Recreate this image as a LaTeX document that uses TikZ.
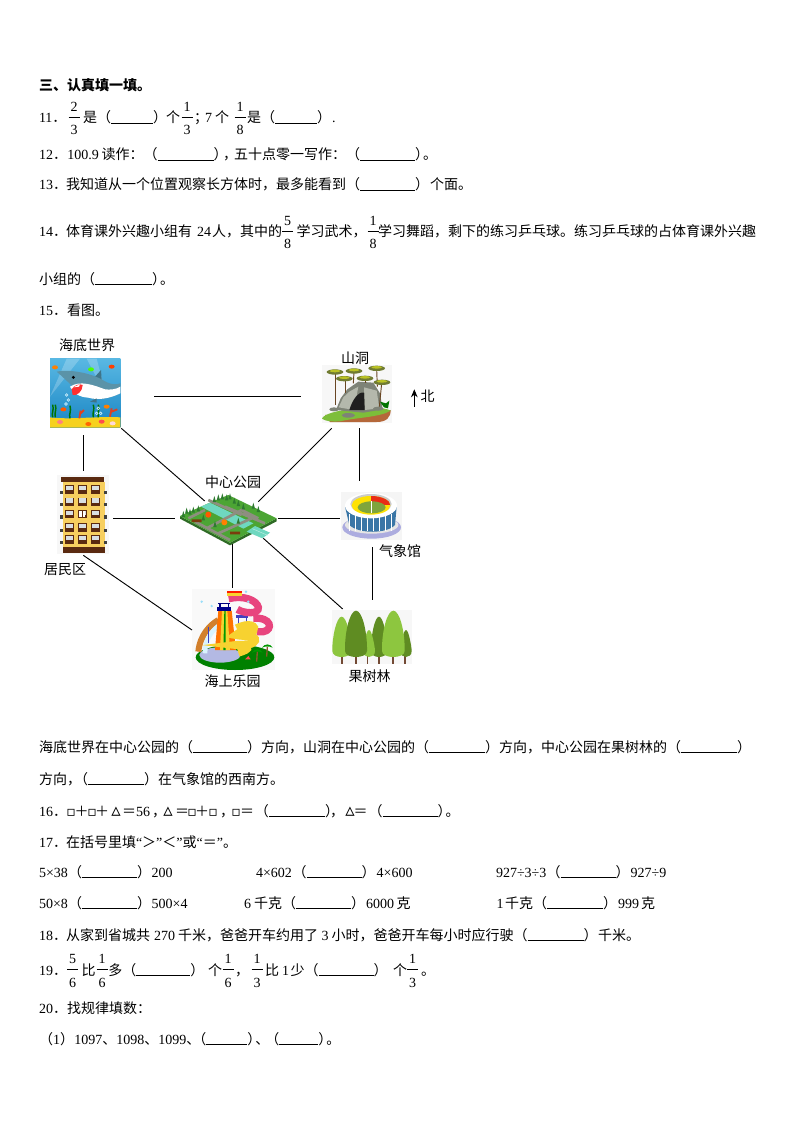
\documentclass[tikz,border=0pt]{standalone}
\usepackage{fontspec}
\usetikzlibrary{arrows.meta}
\setmainfont{Noto Sans CJK SC}
\newfontfamily\latf{Liberation Serif}
\newfontfamily\symf{DejaVu Sans}
\newdimen\pxu \pxu=0.75pt
\newcommand\dg[1]{{\latf #1}}
\newcommand\bl[1]{\rule[-1\pxu]{#1\pxu}{0.9\pxu}}
\newcommand\squ{{\symf\char"25AB}}
\newcommand\tri{{\symf\fontsize{14pt}{14pt}\selectfont\char"25B5}}
\newcommand\bx[2]{\makebox[#1\pxu]{#2}}
\newcommand\frc[2]{\hbox to 11\pxu{\rlap{\raisebox{11.3\pxu}{\hbox to 11\pxu{\hfil\dg{#1}\hfil}}}\rlap{\raisebox{5\pxu}{\rule{11\pxu}{0.7pt}}}\rlap{\raisebox{-12\pxu}{\hbox to 11\pxu{\hfil\dg{#2}\hfil}}}\hfil}}
\newcommand\tx[4]{\node[txt] (#1) at (#2,#3+5) {#4};}
\newcommand\lb[4]{\node[lab] (#1) at (#2,#3) {#4};}
\newcommand\leaf[5]{\fill[#5] (#1-#2,#4-22) .. controls (#1-#2-1,#3+62) and (#1-#2*0.55,#3) .. (#1,#3) .. controls (#1+#2*0.55,#3) and (#1+#2+1,#3+62) .. (#1+#2,#4-22) .. controls (#1+#2,#4+2) and (#1-#2,#4+2) .. cycle;}
\definecolor{brn}{HTML}{5A2A10}
\definecolor{yel}{HTML}{F7CF5F}
\definecolor{seaT}{HTML}{2FA6DC}
\definecolor{seaB}{HTML}{1B86C4}
\definecolor{shk}{HTML}{5B93A8}
\definecolor{shkD}{HTML}{3F7488}
\definecolor{sand}{HTML}{F6D11E}
\definecolor{rock}{HTML}{7E8377}
\definecolor{rockL}{HTML}{B4B8AC}
\definecolor{grass}{HTML}{7DBE3A}
\definecolor{soil}{HTML}{B5683A}
\definecolor{canopy}{HTML}{8C9A3E}
\definecolor{pgreen}{HTML}{4CA534}
\definecolor{pside}{HTML}{2F6B26}
\definecolor{river}{HTML}{6FD8C0}
\definecolor{road}{HTML}{8E8E80}
\definecolor{ptree}{HTML}{2E7A30}
\definecolor{wall}{HTML}{3A76A6}
\definecolor{fld}{HTML}{7FA53C}
\definecolor{lgt}{HTML}{8DC63F}
\definecolor{drk}{HTML}{5F8C22}
\definecolor{slide}{HTML}{E8457E}
\definecolor{slideY}{HTML}{F7D230}
\tikzset{
 txt/.style={anchor=base west,inner sep=0pt,outer sep=0pt,font=\fontsize{10.5pt}{12pt}\selectfont},
 lab/.style={anchor=center,inner sep=0pt,outer sep=0pt,font=\fontsize{10.5pt}{12pt}\selectfont},
 conn/.style={draw=black,line width=0.7pt},
 imgbox/.style={anchor=north west,inner sep=0pt,outer sep=0pt,draw=none},
 zm/.style 2 args={shift={(#1,#2)},x=0.25pt,y=-0.25pt}
}
\begin{document}
\begin{tikzpicture}[x=0.75pt,y=-0.75pt]
\useasboundingbox (0,0) rectangle (794,1123);
\fill[white] (0,0) rectangle (794,1123);
% ---- text
\node[txt,font=\fontsize{10.5pt}{12pt}\selectfont\bfseries] (h3) at (39,91) {三、认真填一填。};
\tx{q11}{39}{118}{\dg{11}．}
\tx{q11a}{68.5}{118}{\frc{2}{3}}
\tx{q11b}{83}{118}{是（\bl{42}）}
\tx{q11c}{166}{118}{个}
\tx{q11d}{181.5}{118}{\frc{1}{3}}
\tx{q11e}{194}{118}{；}
\tx{q11f}{205}{118}{\dg{7}}
\tx{q11g}{215}{118}{个}
\tx{q11h}{234.5}{118}{\frc{1}{8}}
\tx{q11i}{247}{118}{是（\bl{42}）}
\tx{q11j}{332}{118}{\dg{.}}
\tx{q12}{39}{155}{\dg{12}．}
\tx{q12a}{67.3}{155}{\dg{100.9}}
\tx{q12b}{101.7}{155}{读作：（\bl{56}）}
\tx{q12c}{223}{155}{，}
\tx{q12d}{234}{155}{五十点零一写作：（\bl{55}）\kern-6\pxu。}
\tx{q13}{39}{185}{\dg{13}．}
\tx{q13a}{66}{185}{我知道从一个位置观察长方体时，最多能看到（\bl{55}）}
\tx{q13b}{430}{185}{个面。}
\tx{q14}{39}{232}{\dg{14}．}
\tx{q14a}{66}{232}{体育课外兴趣小组有}
\tx{q14b}{197}{232}{\dg{24}}
\tx{q14c}{212}{232}{人，其中的}
\tx{q14d}{282}{232}{\frc{5}{8}}
\tx{q14e}{296.7}{232}{学习武术，}
\tx{q14f}{367.5}{232}{\frc{1}{8}}
\tx{q14g}{378}{232}{学习舞蹈，剩下的练习乒乓球。练习乒乓球的占体育课外兴趣}
\tx{q14h}{39}{279}{小组的（\bl{57}）\kern-6\pxu。}
\tx{q15}{39}{310}{\dg{15}．看图。}
\tx{a1}{39}{747}{海底世界在中心公园的（\bl{54}）方向，山洞在中心公园的（\bl{56}）方向，中心公园在果树林的（\bl{56}）}
\tx{a2}{39}{779}{方向，\kern-7\pxu（\bl{56}）在气象馆的西南方。}
\tx{q16}{39}{811}{\dg{16}．}
\tx{q16a}{66}{811}{\bx{10}{\squ}\bx{11}{＋}\bx{10}{\squ}\bx{10}{＋}\bx{18}{\tri}\bx{8}{＝}\kern3\pxu\dg{56}\kern2\pxu，}
\tx{q16b}{162}{811}{\bx{12}{\tri}\bx{16}{＝}\bx{4}{\squ}\bx{16}{＋}\bx{6}{\squ}\kern4\pxu，}
\tx{q16c}{231}{811}{\bx{10}{\squ}\bx{12}{＝}\kern2\pxu（\bl{56}）}
\tx{q16d}{330}{811}{，}
\tx{q16e}{344}{811}{\bx{12}{\tri}\bx{9}{＝}\kern3.7\pxu（\bl{55}）\kern-6\pxu。}
\tx{q17}{39}{842}{\dg{17}．}
\tx{q17a}{66}{842}{在括号里填\dg{“}＞\dg{”}＜\dg{”}或\dg{“}＝\dg{”}。}
\tx{c1}{39}{872}{\dg{5×38}}
\tx{c1a}{68}{872}{（\bl{55}）}
\tx{c1b}{151.7}{872}{\dg{200}}
\tx{c2}{256}{872}{\dg{4×602}}
\tx{c2a}{292.7}{872}{（\bl{55}）}
\tx{c2b}{376.7}{872}{\dg{4×600}}
\tx{c3}{496}{872}{\dg{927÷3÷3}}
\tx{c3a}{546.7}{872}{（\bl{55}）}
\tx{c3b}{630.7}{872}{\dg{927÷9}}
\tx{d1}{39}{903}{\dg{50×8}}
\tx{d1a}{68}{903}{（\bl{55}）}
\tx{d1b}{151.7}{903}{\dg{500×4}}
\tx{d2}{244}{903}{\dg{6}}
\tx{d2a}{254}{903}{千克（\bl{55}）}
\tx{d2b}{366}{903}{\dg{6000}}
\tx{d2c}{396.7}{903}{克}
\tx{d3}{496.7}{903}{\dg{1}}
\tx{d3a}{505}{903}{千克（\bl{56}）}
\tx{d3b}{618}{903}{\dg{999}}
\tx{d3c}{641}{903}{克}
\tx{q18}{39}{935}{\dg{18}．}
\tx{q18a}{66}{935}{从家到省城共}
\tx{q18b}{154}{935}{\dg{270}}
\tx{q18c}{178}{935}{千米，}
\tx{q18d}{220}{935}{爸爸开车约用了}
\tx{q18e}{321.7}{935}{\dg{3}}
\tx{q18f}{331.7}{935}{小时，爸爸开车每小时应行驶（\bl{56}）}
\tx{q18g}{598}{935}{千米。}
\tx{q19}{39}{970}{\dg{19}．}
\tx{q19a}{67.2}{970}{\frc{5}{6}}
\tx{q19b}{81.7}{970}{比}
\tx{q19c}{96.5}{970}{\frc{1}{6}}
\tx{q19d}{108.3}{970}{多（\bl{54}）}
\tx{q19e}{208}{970}{个}
\tx{q19f}{222.5}{970}{\frc{1}{6}}
\tx{q19g}{235}{970}{，}
\tx{q19h}{251.5}{970}{\frc{1}{3}}
\tx{q19i}{265}{970}{比}
\tx{q19j}{282}{970}{\dg{1}}
\tx{q19k}{290.7}{970}{少（\bl{55}）}
\tx{q19l}{393}{970}{个}
\tx{q19m}{407.2}{970}{\frc{1}{3}}
\tx{q19n}{421}{970}{。}
\tx{q20}{39}{1008}{\dg{20}．找规律填数：}
\tx{q20a}{39}{1039}{（\dg{1}）}
\tx{q20b}{74.3}{1039}{\dg{1097}、\dg{1098}、\dg{1099}、\kern-8\pxu（\bl{41}）\kern-6\pxu、\kern-4\pxu（\bl{39}）\kern-6\pxu。}
% ---- image frames
\node[imgbox,minimum width=52.7pt,minimum height=51.8pt] (sea) at (50,358.7) {};
\node[imgbox,minimum width=52.5pt,minimum height=43.3pt] (cave) at (322,365) {};
\node[imgbox,minimum width=38.8pt,minimum height=59.3pt] (home) at (57,475) {};
\node[imgbox,minimum width=71.5pt,minimum height=37.5pt] (park) at (180,495) {};
\node[imgbox,minimum width=45.5pt,minimum height=35.8pt] (stad) at (341,492.3) {};
\node[imgbox,minimum width=62.3pt,minimum height=61.3pt] (wpark) at (192,588.3) {};
\node[imgbox,minimum width=60pt,minimum height=40.5pt] (wood) at (332,610) {};
% ---- shark scene
\begin{scope}[zm={30}{330}]
\shade[top color=seaT!80!white,bottom color=seaB] (60,86) rectangle (271,293);
\fill[white,opacity=.22] (150,86) -- (60,200) -- (110,86) -- cycle;
\fill[white,opacity=.22] (170,86) -- (230,200) -- (200,86) -- cycle;
\fill[sand] (60,262) .. controls (120,270) and (200,258) .. (271,262) -- (271,293) -- (60,293) -- cycle;
\foreach \xa/\ya in {68/262,76/262,120/265,190/262,205/262}{\draw[green!45!black,line width=1.1pt] (\xa,\ya) .. controls (\xa-4,\ya-14) and (\xa+5,\ya-22) .. (\xa,\ya-38);}
\draw[red!50!brown,line width=1.4pt] (148,265) -- (152,242) (152,250) -- (162,240) (240,260) -- (245,235) (245,245) -- (262,238);
\fill[shkD] (190,146) -- (213,120) -- (215,150) -- cycle;
\fill[shk] (80,125) .. controls (110,118) and (170,125) .. (215,148) .. controls (240,165) and (260,165) .. (271,160) -- (271,190) .. controls (240,205) and (200,215) .. (175,200) .. controls (150,195) and (110,150) .. cycle;
\fill[white] (120,170) .. controls (150,150) and (190,165) .. (225,178) .. controls (240,180) and (260,178) .. (271,170) -- (271,190) .. controls (240,205) and (205,212) .. (175,203) .. controls (150,202) and (130,190) .. cycle;
\fill[red!75!pink] (125,178) .. controls (132,165) and (150,160) .. (158,165) .. controls (158,185) and (140,198) .. (128,195) -- cycle;
\fill[white] (130,172) -- (150,163) -- (147,170) -- cycle;
\fill[black] (130,142) circle (5);
\fill[shkD] (180,215) -- (200,205) -- (200,218) -- cycle;
\foreach \xa/\ya/\co in {75/112/orange,183/118/green!70!yellow,245/110/red!50!orange,100/238/orange!70!red,230/230/orange,90/276/red!50,175/282/orange!80!red,215/275/red!70,248/280/pink!60}{\fill[\co] (\xa,\ya) ellipse (9 and 6);}
\foreach \xa/\ya in {110/195,115/210,108/222,205/235,212/250,200/250}{\draw[cyan!20,line width=.5pt] (\xa,\ya) circle (4);}
\end{scope}
% ---- cave
\begin{scope}[zm={230}{330}]
\fill[gray!6] (276,105) rectangle (486,278);
\fill[soil] (285,255) -- (482,240) .. controls (482,262) and (470,276) .. (440,276) -- (300,276) -- cycle;
\fill[grass] (276,266) .. controls (285,238) and (450,222) .. (482,242) .. controls (450,262) and (380,262) .. (330,274) .. controls (310,276) and (285,274) .. (276,266) -- cycle;
\fill[rock] (318,240) -- (332,205) -- (352,178) -- (385,155) -- (430,158) -- (450,190) -- (458,238) -- (400,248) -- cycle;
\fill[rockL] (326,232) -- (340,202) -- (358,185) -- (385,170) -- (372,240) -- cycle;
\fill[rockL] (402,172) -- (440,182) -- (448,235) -- (405,240) -- cycle;
\fill[black!88] (358,240) .. controls (366,212) and (385,183) .. (402,188) -- (404,240) -- cycle;
\fill[rock] (355,256) ellipse (20 and 7) (445,236) ellipse (16 and 6) (312,238) ellipse (14 and 6);
\foreach \xa/\ya/\xb/\yb in {316/130/316/225,372/125/370/160,345/147/345/190,405/147/405/160,440/118/442/170,455/160/448/230}{\draw[brown!55!black,line width=.7pt] (\xa,\ya) -- (\xb,\yb);}
\foreach \xa/\ya in {315/126,372/123,343/146,405/145,440/115,456/157}{\fill[canopy!80!black] (\xa,\ya) ellipse (25 and 8);\fill[canopy!60!yellow] (\xa,\ya-3) ellipse (16 and 4);}
\fill[green!45!black] (462,232) -- (450,215) -- (468,220) -- (478,212) -- (474,235) -- cycle;
\end{scope}
% ---- building
\begin{scope}[zm={50}{470}]
\fill[gray!6] (22,15) rectangle (178,252);
\fill[yel] (40,35) rectangle (165,232);
\fill[brn] (33,22) rectangle (162,35);
\fill[brn] (38,232) rectangle (165,250);
\foreach \ya in {58,95,132,172,208}{
 \fill[black!75] (30,\ya+4) rectangle (40,\ya+14);
 \fill[black!75] (163,\ya+4) rectangle (171,\ya+14);
 \foreach \xa in {58,98,137}{
  \fill[brn] (\xa-13,\ya-12) rectangle (\xa+13,\ya+13);
  \fill[cyan!15!gray!30] (\xa-11,\ya-10) rectangle (\xa+11,\ya+3);
 }
}
\fill[white] (88,122) rectangle (104,140);
\fill[brn] (95,122) rectangle (99,140);
\end{scope}
% ---- park
\begin{scope}[zm={175}{490}]
\fill[pside] (15,78) -- (165,158) -- (305,85) -- (305,94) -- (165,166) -- (15,86) -- cycle;
\fill[pgreen] (15,78) -- (100,40) -- (160,15) -- (305,85) -- (165,158) -- cycle;
\fill[river] (78,50) -- (105,38) -- (235,100) -- (205,116) -- cycle;
\fill[river] (240,108) -- (285,128) -- (262,145) -- (215,125) -- cycle;
\draw[white!60!river,line width=.3pt] (232,116) -- (278,136);
\draw[road,line width=2pt] (40,85) -- (90,60) (95,115) -- (200,60) -- (250,85) (60,95) -- (165,150) (130,130) -- (230,85) (150,50) -- (270,100) (100,30) -- (200,75);
\fill[brn!80!orange] (50,88) rectangle (80,96) (165,125) rectangle (195,133);
\foreach \xa/\ya in {25/75,35/65,45/68,55/62,70/58,118/30,130/25,142/22,155/25,165/22,178/35,190/42,235/50,250/60,205/52,85/85,120/105,190/95}{\fill[ptree] (\xa-5,\ya+6) -- (\xa,\ya-12) -- (\xa+5,\ya+6) -- cycle;}
\fill[orange!70!red] (100,74) circle (9);
\fill[orange] (148,97) circle (9);
\end{scope}
% ---- stadium
\begin{scope}[zm={230}{330}]
\fill[gray!8] (333,487) rectangle (515,630);
\fill[gray!55!blue!45] (425,592) ellipse (88 and 34);
\fill[gray!20] (425,585) ellipse (80 and 26);
\fill[wall] (345,530) -- (500,530) -- (495,585) .. controls (470,612) and (385,612) .. (358,585) -- cycle;
\foreach \xa in {358,376,394,412,430,448,466,484}{\draw[white,line width=.5pt] (\xa,552) -- (\xa,604);}
\fill[white] (423,527) ellipse (78 and 38);
\fill[gray!40] (423,522) ellipse (62 and 30);
\fill[yellow!85!orange] (423,526) ellipse (58 and 28);
\begin{scope}
\clip (423,490) rectangle (490,522);
\fill[red!65!brown] (423,526) ellipse (58 and 28);
\end{scope}
\fill[fld] (425,532) ellipse (42 and 18);
\draw[white,line width=.3pt] (425,514) -- (425,550);
\end{scope}
% ---- water park
\begin{scope}[zm={30}{520}]
\fill[gray!5] (486,207) rectangle (735,450);
\fill[green!50!black] (615,412) ellipse (118 and 38);
\fill[cyan!30!blue!30] (570,405) ellipse (62 and 23);
\draw[brown!70!orange,line width=4.5pt] (505,395) .. controls (510,345) and (540,315) .. (565,300);
\draw[cyan!15,line width=3.5pt] (525,400) .. controls (525,355) and (548,330) .. (568,316);
\fill[orange!90!red] (565,272) -- (605,272) -- (618,390) -- (555,390) -- cycle;
\fill[slideY] (576,272) -- (592,272) -- (600,390) -- (570,390) -- cycle;
\fill[green!60!black] (583,272) -- (587,272) -- (587,390) -- (580,390) -- cycle;
\fill[blue!55!black] (562,262) rectangle (602,272);
\draw[blue!50!black,line width=.8pt] (570,250) -- (570,262) (595,250) -- (595,262) (565,250) -- (600,250);
\fill[blue!50!gray] (618,285) rectangle (655,295);
\draw[blue!50!gray,line width=.8pt] (625,295) -- (625,340) (650,295) -- (650,340) (535,320) -- (535,370);
\draw[slide,line width=5.5pt] (596,236) .. controls (640,225) and (680,240) .. (685,262) .. controls (688,285) and (640,280) .. (622,268);
\draw[slide,line width=5.5pt] (670,295) .. controls (725,290) and (730,330) .. (700,335) -- (680,335);
\fill[red!80!orange] (592,212) rectangle (636,218);
\fill[slideY] (592,218) rectangle (636,228);
\draw[slideY,line width=6pt] (620,325) .. controls (660,305) and (680,320) .. (670,332) .. controls (650,345) and (620,335) .. (618,345) .. controls (640,350) and (680,345) .. (675,362) .. controls (665,380) and (630,372) .. (618,375) .. controls (650,378) and (670,385) .. (625,398);
\foreach \xa/\ya in {682/395,712/380}{\draw[brown!70!black,line width=1pt] (\xa,\ya) -- (\xa-2,\ya+30);\fill[green!60!black] (\xa-16,\ya+3) .. controls (\xa-8,\ya-10) and (\xa+8,\ya-10) .. (\xa+16,\ya+3) .. controls (\xa+5,\ya-2) and (\xa-5,\ya-2) .. cycle;}
\foreach \xa/\ya in {515/245,545/258,648/215,655/245}{\fill[cyan!40] (\xa,\ya) circle (4);}
\fill[red!70] (645,418) -- (655,408) -- (662,418) -- cycle;
\end{scope}
% ---- forest
\begin{scope}[zm={30}{520}]
\fill[gray!6] (906,270) rectangle (1146,432);
\foreach \xa in {936,978,1012,1047,1088,1124}{\fill[brn!85] (\xa-2.5,405) rectangle (\xa+2.5,432);}
\leaf{935}{28}{290}{415}{lgt}
\leaf{1047}{24}{290}{415}{drk}
\leaf{1017}{18}{330}{415}{lgt}
\leaf{1128}{17}{330}{415}{drk}
\leaf{978}{33}{272}{415}{drk}
\leaf{1090}{34}{272}{415}{lgt}
\end{scope}
% ---- labels
\lb{lsea}{87}{345}{海底世界}
\lb{lcave}{355}{358}{山洞}
\lb{lpark}{233}{482}{中心公园}
\lb{lstad}{400}{551}{气象馆}
\lb{lhome}{65}{569.3}{居民区}
\lb{lwp}{232.5}{681}{海上乐园}
\lb{lwood}{369.5}{675.7}{果树林}
\lb{lnorth}{427.5}{396.7}{北}
% ---- connector ends
\coordinate (n1) at (154,396); \coordinate (n2) at (300.7,396);
\coordinate (n3) at (121.3,428.3); \coordinate (n4) at (204.7,501);
\coordinate (n5) at (83.3,435.3); \coordinate (n6) at (83.3,470.7);
\coordinate (n7) at (113,518); \coordinate (n8) at (175,518);
\coordinate (n9) at (331.7,428.3); \coordinate (n10) at (258.3,501.7);
\coordinate (n11) at (359.3,428); \coordinate (n12) at (359.3,480.7);
\coordinate (n13) at (278,518); \coordinate (n14) at (339.7,518);
\coordinate (n15) at (83.3,555.3); \coordinate (n16) at (192,630);
\coordinate (n17) at (232.3,544); \coordinate (n18) at (232.3,588.3);
\coordinate (n19) at (263.3,538.3); \coordinate (n20) at (342.7,609);
\coordinate (n21) at (372.3,547.3); \coordinate (n22) at (372.3,600);
\coordinate (n23) at (414.3,406.7); \coordinate (n24) at (414.3,389.3);
\draw[conn] (n1) -- (n2);
\draw[conn] (n3) -- (n4);
\draw[conn] (n5) -- (n6);
\draw[conn] (n7) -- (n8);
\draw[conn] (n9) -- (n10);
\draw[conn] (n11) -- (n12);
\draw[conn] (n13) -- (n14);
\draw[conn] (n15) -- (n16);
\draw[conn] (n17) -- (n18);
\draw[conn] (n19) -- (n20);
\draw[conn] (n21) -- (n22);
\draw[conn,-{Stealth[length=6pt,width=5pt]}] (n23) -- (n24);
\end{tikzpicture}
\end{document}
